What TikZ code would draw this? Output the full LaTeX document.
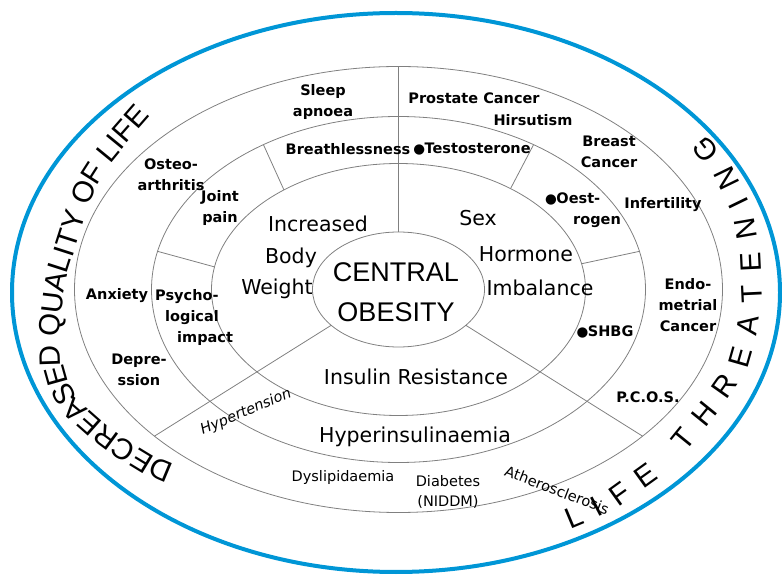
\documentclass[tikz,border=0pt]{standalone}
\usepackage{fontspec}
\setmainfont{DejaVu Sans}
\newfontfamily\headfont{Liberation Sans}
\usepackage{xcolor}
\usepackage{tikz}
\usetikzlibrary{shapes.geometric,decorations.text}
\definecolor{rimblue}{RGB}{0,150,214}
\newcommand{\lowdot}{{\fontsize{13.5}{13.5}\selectfont ●}\kern-0.5pt}
\newcommand{\arcfont}{\headfont\fontsize{29.5}{29.5}\selectfont}

\begin{document}
\begin{tikzpicture}[
  x=1pt, y=1pt,
  ring/.style={draw=black!50, line width=0.8pt, ellipse, inner sep=0pt, outer sep=0pt},
  sector/.style={draw=black!50, line width=0.8pt},
  rim/.style={draw=rimblue, line width=4pt},
  core/.style={font=\headfont\fontsize{27}{40}\selectfont, align=center, inner sep=0pt},
  zone/.style={font=\fontsize{20.5}{24}\selectfont, anchor=base, inner sep=0pt},
  effect/.style={font=\bfseries\fontsize{14.5}{21}\selectfont, align=center, inner sep=0pt},
  minor/.style={font=\fontsize{14.5}{20}\selectfont, align=center, inner sep=0pt},
  arcnote/.style={decorate, decoration={text along path, text align={fit to path}, raise=-10.5pt,
    text={|\arcfont|#1}}}
]
\useasboundingbox (0,0) rectangle (782,576);

% rings
\coordinate (c) at (398.5,286.5);
\node[ring, minimum width=172pt, minimum height=115pt] (e1) at (c) {};
\node[ring, minimum width=374pt, minimum height=252pt] (e2) at (c) {};
\node[ring, minimum width=494pt, minimum height=346pt] (e3) at (c) {};
\node[ring, minimum width=648pt, minimum height=446pt] (e4) at (c) {};
\draw[rim] (396,283.5) ellipse [x radius=384, y radius=279.5];

% sectors
\draw[sector] (e1.90) -- (e4.90);
\draw[sector] (e1.208) -- (e4.211);
\draw[sector] (e1.332) -- (e4.329);
\draw[sector] (e2.139) -- (e3.133);
\draw[sector] (e2.173) -- (e3.171);
\draw[sector] (e2.42) -- (e3.47);
\draw[sector] (e2.8) -- (e3.9);

% centre and causes
\node[core] (obesity) at (396,283.5) {CENTRAL\\OBESITY};
\node[zone] (increased) at (318,344) {Increased};
\node[zone] (body) at (291,312) {Body};
\node[zone] (weight) at (277,281) {Weight};
\node[zone] (sex) at (478,350) {Sex};
\node[zone] (hormone) at (526,314) {Hormone};
\node[zone] (imbalance) at (540,280) {Imbalance};
\node[zone] (insulin) at (416,191) {Insulin Resistance};
\node[zone] (hyperins) at (415,133) {Hyperinsulinaemia};

% effects
\node[effect] (sleep) at (323,473.5) {Sleep\\apnoea};
\node[effect] (prostate) at (474,478) {Prostate Cancer};
\node[effect] (hirsutism) at (533,456) {Hirsutism};
\node[effect] (breath) at (348,427) {Breathlessness};
\node[effect] (testo) at (472,427) {\lowdot Testosterone};
\node[effect] (breast) at (609,424) {Breast\\Cancer};
\node[effect, align=left, anchor=west] (oestro) at (545,366) {\lowdot Oest-\\\hspace*{28pt}rogen};
\node[effect] (infertility) at (663,371) {Infertility};
\node[effect] (endo) at (688,270.5) {Endo-\\metrial\\Cancer};
\node[effect] (shbg) at (605,244) {\lowdot SHBG};
\node[effect] (pcos) at (648,179) {P.C.O.S.};
\node[minor, rotate=-21] (athero) at (557,86) {Atherosclerosis};
\node[minor] (diabetes) at (448,84) {Diabetes\\(NIDDM)};
\node[minor] (dyslip) at (343,98) {Dyslipidaemia};
\node[minor, font=\itshape\fontsize{14.5}{20}\selectfont, rotate=23] (hypert) at (246,164) {Hypertension};
\node[effect] (depression) at (139,206) {Depre-\\ssion};
\node[effect] (anxiety) at (117,280) {Anxiety};
\node[effect, align=left, anchor=west] (psych) at (155,258) {Psycho-\\\hspace*{10pt}logical\\\hspace*{22pt}impact};
\node[effect] (joint) at (220,368) {Joint\\pain};
\node[effect] (osteo) at (171,401) {Osteo-\\arthritis};

% outer captions
\path[arcnote={DECREASED QUALITY OF LIFE}] (170,102) -- (146,112) -- (123,126) -- (96,146) -- (70,169) -- (57,194) -- (50,219) -- (49,250) -- (53,283) -- (59,311) -- (68,339) -- (77,370) -- (88,396) -- (104,421) -- (122,443) -- (143,467);
\path[arcnote={LIFE THREATENING}] (566,56) -- (590,66) -- (615,79) -- (647,102) -- (678,131) -- (708,168) -- (737,209) -- (747,244) -- (752,280) -- (750,322) -- (743,363) -- (725,400) -- (698,435);
\end{tikzpicture}
\end{document}
